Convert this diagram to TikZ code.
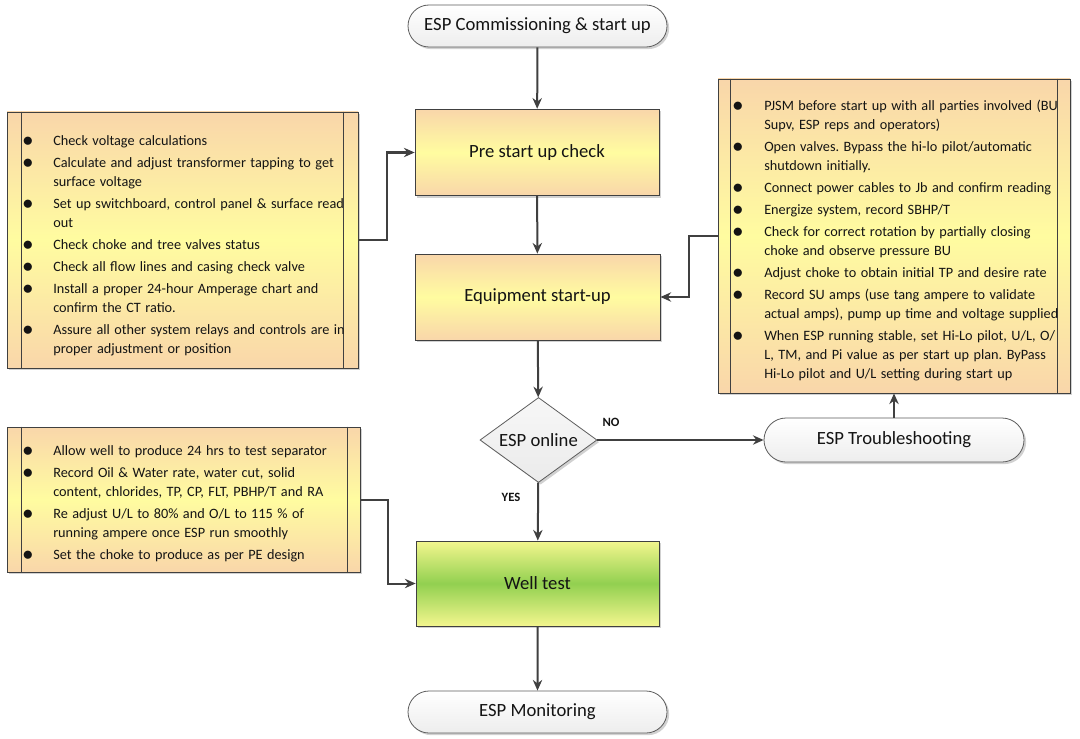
\documentclass[tikz,border=0pt]{standalone}
\usepackage{fontspec}
\setmainfont{Carlito}
\usetikzlibrary{arrows.meta,shapes.misc,shapes.geometric,shadows}
\definecolor{peach}{RGB}{249,214,170}
\definecolor{yell}{RGB}{255,252,160}
\definecolor{wgreen}{RGB}{146,208,80}
\definecolor{wyell}{RGB}{243,246,142}
\definecolor{linec}{RGB}{64,64,64}
\definecolor{txt}{RGB}{20,20,20}
\frenchspacing
\newenvironment{blist}[3]{\fontsize{10.7pt}{14.25pt}\selectfont\raggedright\frenchspacing
  \begin{list}{\raisebox{-0.15ex}{\scalebox{1.45}{$\bullet$}}}{\setlength\leftmargin{#1}\setlength\labelsep{#2}\setlength\labelwidth{#3}%
  \setlength\itemsep{2.25pt}\setlength\parsep{0pt}\setlength\topsep{0pt}\setlength\partopsep{0pt}\setlength\itemindent{0pt}}}
  {\end{list}}
\tikzset{
  shad/.style={drop shadow={shadow xshift=1.6pt,shadow yshift=-1.6pt,fill=black,opacity=0.18}},
  term/.style={rounded rectangle, draw=linec!85, line width=0.6pt, top color=white, bottom color=gray!14, shad,
     minimum width=194.25pt, minimum height=31.5pt, inner sep=0pt, font=\fontsize{14pt}{16pt}\selectfont, text=txt},
  procbox/.style={rectangle, draw=linec, line width=0.6pt, top color=peach, bottom color=peach, middle color=yell, shad,
     minimum width=183pt, minimum height=65pt, inner sep=0pt, font=\fontsize{14pt}{16pt}\selectfont, text=txt},
  greenbox/.style={rectangle, draw=linec, line width=0.6pt, top color=wyell, bottom color=wyell, middle color=wgreen, shad,
     minimum width=182.25pt, minimum height=63.75pt, inner sep=0pt, font=\fontsize{14pt}{16pt}\selectfont, text=txt},
  notebox/.style={rectangle, draw=linec, line width=0.6pt, top color=peach, bottom color=peach, middle color=yell, shad, inner sep=0pt},
  dec/.style={diamond, draw=linec!85, line width=0.6pt, top color=gray!6, bottom color=gray!16, shad,
     minimum width=87.75pt, minimum height=63.75pt, inner sep=0pt},
  arr/.style={draw=linec, line width=1.5pt, -{Stealth[length=8pt,width=7pt]}},
  inner/.style={draw=linec, line width=0.6pt},
  lbl/.style={font=\fontsize{9.5pt}{11pt}\selectfont\bfseries, text=txt},
  listnode/.style={anchor=north west, inner sep=0pt, text width=262pt, align=left, text=txt}
}
\begin{document}
\begin{tikzpicture}[x=0.75pt,y=-0.75pt]
\useasboundingbox[fill=white] (0,0) rectangle (1080,738);

% main flow
\node[term] (start) at (537.5,26) {ESP Commissioning \& start up};
\node[procbox] (pre) at (537,152.5) {Pre start up check};
\node[procbox, minimum width=183.75pt, minimum height=64.5pt] (equip) at (537.5,297) {Equipment start-up};
\node[dec] (online) at (538.5,440) {};
\node[font=\fontsize{14pt}{16pt}\selectfont, text=txt, inner sep=0pt] (onlinetxt) at (online) {ESP online};
\node[term, minimum width=195pt, minimum height=33pt] (trouble) at (894,440) {ESP Troubleshooting};
\node[greenbox] (well) at (537.5,583.5) {Well test};
\node[term] (mon) at (537.5,712) {ESP Monitoring};

% note boxes
\node[notebox, minimum width=263.25pt, minimum height=192pt] (lbox1) at (182.5,240) {};
\draw[inner] ([xshift=11.25pt]lbox1.north west) -- ([xshift=11.25pt]lbox1.south west);
\draw[inner] ([xshift=-11.25pt]lbox1.north east) -- ([xshift=-11.25pt]lbox1.south east);
\node[listnode] (l1text) at (22,126.2) {\begin{blist}{23.25pt}{15pt}{8.25pt}
\item Check voltage calculations
\item Calculate and adjust transformer tapping to get\newline surface voltage
\item Set up switchboard, control panel \& surface read\newline out
\item Check choke and tree valves status
\item Check all flow lines and casing check valve
\item Install a proper 24-hour Amperage chart and\newline confirm the CT ratio.
\item Assure all other system relays and controls are in\newline proper adjustment or position
\end{blist}};

\node[notebox, minimum width=264pt, minimum height=235.5pt] (rbox) at (894,236) {};
\draw[inner] ([xshift=9.75pt]rbox.north west) -- ([xshift=9.75pt]rbox.south west);
\draw[inner] ([xshift=-9.75pt]rbox.north east) -- ([xshift=-9.75pt]rbox.south east);
\node[listnode] (rtext) at (731,91.7) {\begin{blist}{24.75pt}{15.75pt}{9pt}
\item PJSM before start up with all parties involved (BU\newline Supv, ESP reps and operators)
\item Open valves. Bypass the hi-lo pilot/automatic\newline shutdown initially.
\item Connect power cables to Jb and confirm reading
\item Energize system, record SBHP/T
\item Check for correct rotation by partially closing\newline choke and observe pressure BU
\item Adjust choke to obtain initial TP and desire rate
\item Record SU amps (use tang ampere to validate\newline actual amps), pump up time and voltage supplied
\item When ESP running stable, set Hi-Lo pilot, U/L, O/\newline L, TM, and Pi value as per start up plan. ByPass\newline Hi-Lo pilot and U/L setting during start up
\end{blist}};

\node[notebox, minimum width=264.75pt, minimum height=108.75pt] (lbox2) at (183.5,499.5) {};
\draw[inner] ([xshift=11.25pt]lbox2.north west) -- ([xshift=11.25pt]lbox2.south west);
\draw[inner] ([xshift=-9.75pt]lbox2.north east) -- ([xshift=-9.75pt]lbox2.south east);
\node[listnode] (l2text) at (22,436.2) {\begin{blist}{23.25pt}{15pt}{8.25pt}
\item Allow well to produce 24 hrs to test separator
\item Record Oil \& Water rate, water cut, solid\newline content, chlorides, TP, CP, FLT, PBHP/T and RA
\item Re adjust U/L to 80\% and O/L to 115 \% of\newline running ampere once ESP run smoothly
\item Set the choke to produce as per PE design
\end{blist}};

% connectors
\draw[arr] (start) -- (pre);
\draw[arr] (pre) -- (equip);
\draw[arr] (equip) -- (online);
\draw[arr] (online) -- (well);
\draw[arr] (well) -- (mon);
\draw[arr] (online.east) -- (trouble.west);
\draw[arr] (trouble.north) -- (trouble.north |- rbox.south);
\draw[arr] (lbox1.east) -- ++(29,0) |- (pre.west);
\draw[arr] (rbox.west) -- ++(-29,0) |- (equip.east);
\draw[arr] (lbox2.east) -- ++(28,0) |- (well.west);

\node[lbl] (no) at (611,422) {NO};
\node[lbl] (yes) at (511,497) {YES};
\end{tikzpicture}
\end{document}
